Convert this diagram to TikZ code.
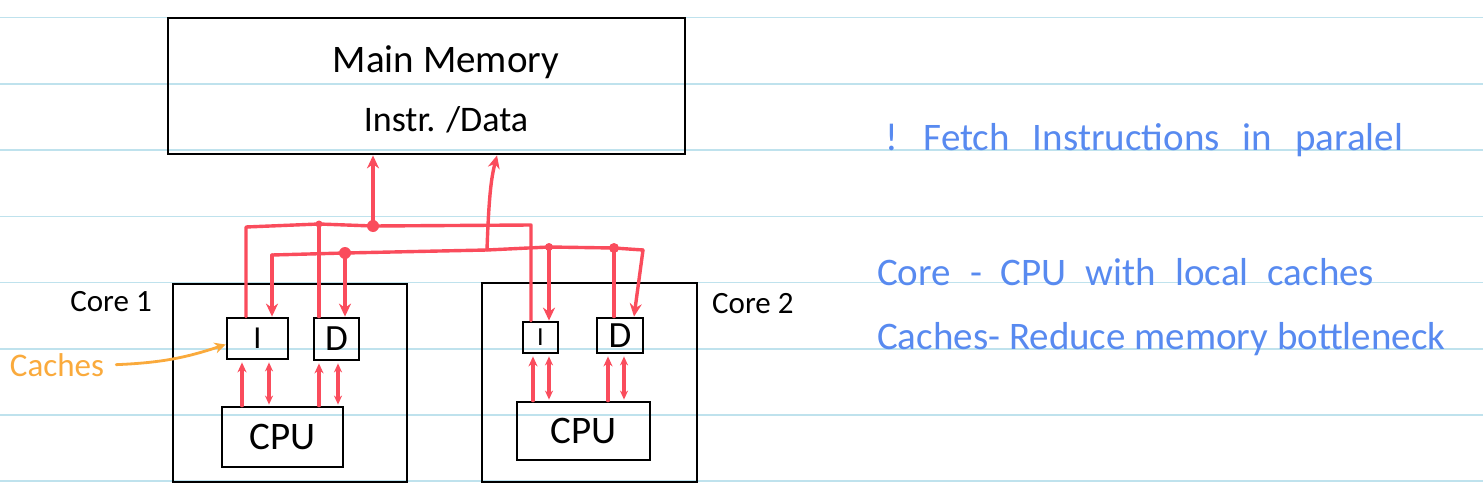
\documentclass[tikz,border=0pt]{standalone}
\usepackage{fontspec}
\setmainfont{Carlito}
\usepackage{tikz}
\usetikzlibrary{positioning, arrows.meta}
\definecolor{paperline}{RGB}{191, 226, 237}
\definecolor{busred}{RGB}{250, 76, 92}
\definecolor{noteblue}{RGB}{88, 138, 240}
\definecolor{cacheorange}{RGB}{250, 170, 60}

\begin{document}
\begin{tikzpicture}[x=1pt, y=-1pt,
  box/.style={draw, line width=2.8pt, inner sep=0pt},
  hand/.style={font=\fontsize{#1}{#1}\selectfont, inner sep=0pt},
  bus/.style={busred, line width=3.4pt, line cap=round, line join=round},
  busarrow/.style={-{Stealth[length=13pt, width=12pt]}},
  smallarrow/.style={-{Stealth[length=10pt, width=9pt]}, shorten >=2pt},
  twoway/.style={{Stealth[length=9pt, width=8pt]}-{Stealth[length=9pt, width=8pt]}, shorten >=2pt, shorten <=1pt}]
\useasboundingbox (0,0) rectangle (1483,503);
\fill[white] (0,0) rectangle (1483,503);
\foreach \i in {0,...,7}
  \draw[paperline, line width=1.6pt] (0,{17.7+66.2*\i}) -- (1483,{17.7+66.2*\i});

\node[box, minimum width=517pt, minimum height=136pt] (mem) at (426.5,86) {};
\node[hand=39, anchor=base] (memtitle) at (446,73) {Main Memory};
\node[hand=36, anchor=base] (memsub) at (446,131) {Instr. /Data};

\node[box, minimum width=234pt, minimum height=198pt] (core1) at (290,383) {};
\node[box, minimum width=215pt, minimum height=199pt] (core2) at (589.5,382.5) {};
\node[box, minimum width=61pt, minimum height=41pt, hand=32] (i1) at (257.5,338.5) {I};
\node[box, minimum width=45pt, minimum height=42pt, hand=37] (d1) at (336.5,339) {D};
\node[box, minimum width=121pt, minimum height=60pt, hand=39] (cpu1) at (282.5,437) {CPU};
\node[box, minimum width=35pt, minimum height=31pt, hand=26] (i2) at (540.5,337.5) {I};
\node[box, minimum width=46pt, minimum height=35pt, hand=37] (d2) at (620,335.5) {D};
\node[box, minimum width=133pt, minimum height=58pt, hand=39] (cpu2) at (583.5,431) {CPU};

\node[hand=31, anchor=base east] (lab1) at (152,311) {Core 1};
\node[hand=31, anchor=base west] (lab2) at (712,313) {Core 2};
\node[hand=33, anchor=base, cacheorange] (cachelab) at (57,376) {Caches};

\node[hand=39, noteblue, anchor=base west] (note1) at (885,150) {\spaceskip=23pt\relax ! Fetch Instructions in paralel};
\node[hand=39, noteblue, anchor=base west] (note2) at (877,285) {\spaceskip=19pt\relax Core - CPU with local caches};
\node[hand=39, noteblue, anchor=base west] (note3) at (877,349) {Caches- Reduce memory bottleneck};

\coordinate (ti1) at (246,227);
\coordinate (tdot1) at (319,224);
\coordinate (tmem) at (373,226);
\coordinate (ti2) at (531,225);
\coordinate (si1) at (272,255);
\coordinate (sdot1) at (345,253);
\coordinate (smem) at (487,250);
\coordinate (sdot2) at (549,247);
\coordinate (sdot3) at (614,248);
\coordinate (sd2) at (643,250);

\draw[bus] (i1.north -| ti1) -- (ti1) -- (tdot1) -- (tmem) -- (ti2) -- (i2.north -| ti2);
\draw[bus] (tdot1) -- (d1.north -| tdot1);
\draw[bus, busarrow] (tmem) -- (mem.south -| tmem);
\draw[bus] (si1) -- (sdot1) -- (smem) -- (sdot2) -- (sdot3) -- (sd2);
\draw[bus, busarrow] (si1) -- (i1.north -| si1);
\draw[bus, busarrow] (sdot1) -- (d1.north -| sdot1);
\draw[bus, busarrow] (smem) .. controls (489,190) and (492,175) .. ([xshift=70.5pt]mem.south);
\draw[bus, busarrow] (sdot2) -- (i2.north -| sdot2);
\draw[bus] (sdot3) -- (d2.north -| sdot3);
\draw[bus, busarrow] (sd2) -- ([xshift=14pt]d2.north);
\fill[busred] (tdot1) circle (3.5pt) (tmem) circle (6pt) (sdot1) circle (6pt)
  (sdot2) circle (4pt) (sdot3) circle (5pt);

\foreach \c/\p/\a/\b in {i1/cpu1/242/269, d1/cpu1/319/338, i2/cpu2/533/549, d2/cpu2/608/624} {
  \draw[bus, smallarrow] (\p.north -| \a,0) -- (\c.south -| \a,0);
  \draw[bus, twoway] (\p.north -| \b,0) -- (\c.south -| \b,0);
}

\draw[cacheorange, line width=2.8pt, line cap=round, -{Stealth[length=11pt, width=11pt]}]
  ([xshift=12pt]cachelab.east) to[bend right=8] ([yshift=-6pt]i1.west);
\end{tikzpicture}
\end{document}
